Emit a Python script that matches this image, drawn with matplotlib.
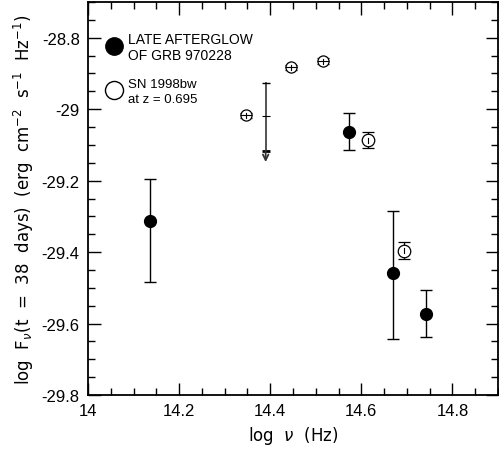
import matplotlib
matplotlib.use("Agg")
import matplotlib.pyplot as plt
from matplotlib.ticker import MultipleLocator

plt.rcParams['font.family'] = ['Liberation Sans', 'DejaVu Sans']
plt.rcParams['mathtext.fontset'] = 'dejavusans'

# Late afterglow of GRB 970228 (filled)
grb_x = [14.137, 14.574, 14.670, 14.741]
grb_y = [-29.314, -29.063, -29.458, -29.572]
grb_err_lo = [0.169, 0.051, 0.186, 0.067]
grb_err_hi = [0.119, 0.051, 0.173, 0.067]

# SN 1998bw at z = 0.695 (open)
sn_x = [14.347, 14.445, 14.516, 14.614, 14.693]
sn_y = [-29.017, -28.883, -28.866, -29.087, -29.396]
sn_err = [0.007, 0.008, 0.008, 0.022, 0.024]
sn_size = [8.0, 8.0, 8.0, 9.0, 9.0]
sn_hline = [True, True, True, False, False]

# Upper limit arrow
ul_x = 14.39
ul_top = -28.926
ul_mid = -29.019
ul_bar = -29.116
ul_tip = -29.148

fig = plt.figure(figsize=(4.99, 4.52), dpi=100)
ax = fig.add_axes([88/499, (452-396)/452, (498-88)/499, (396-3)/452])

ax.errorbar(grb_x, grb_y, yerr=[grb_err_lo, grb_err_hi], fmt='o', color='black',
            ms=8.5, capsize=4.5, elinewidth=1.0, capthick=1.0, zorder=3)

for x, y, e, s, h in zip(sn_x, sn_y, sn_err, sn_size, sn_hline):
    ax.errorbar([x], [y], yerr=[e], fmt='o', mfc='white', mec='black', mew=0.9,
                ecolor='black', ms=s, capsize=s/2, elinewidth=0.9, capthick=0.9, zorder=3)
    if h:
        ax.plot([x], [y], marker='_', color='black', ms=s, mew=0.8, zorder=4)
    ax.plot([x, x], [y - s*0.0008, y + s*0.0008], color='black', lw=0.8, zorder=4)

# upper limit
ax.plot([ul_x, ul_x], [ul_top, ul_bar], color='#444444', lw=1.3, zorder=2)
ax.annotate('', xy=(ul_x, ul_tip), xytext=(ul_x, ul_bar),
            arrowprops=dict(arrowstyle='->', color='#333333', lw=1.3,
                            mutation_scale=10, shrinkA=0, shrinkB=0))
ax.plot([ul_x], [ul_top], marker='_', color='black', ms=6, mew=1.0)
ax.plot([ul_x], [ul_mid], marker='_', color='black', ms=6, mew=0.8)
ax.plot([ul_x], [ul_bar], marker='_', color='black', ms=6, mew=2.0)

# legend-like annotations
ax.plot([14.058], [-28.824], 'o', color='black', ms=12.5, clip_on=False)
ax.plot([14.056], [-28.946], 'o', mfc='white', mec='black', mew=1.0, ms=13, clip_on=False)
ax.text(14.088, -28.826, 'LATE AFTERGLOW\nOF GRB 970228', fontsize=10, va='center', ha='left',
        linespacing=1.15)
ax.text(14.088, -28.95, 'SN 1998bw\nat z = 0.695', fontsize=9.5, va='center', ha='left',
        linespacing=1.3)

ax.set_xlim(14.0, 14.9)
ax.set_ylim(-29.8, -28.7)
ax.xaxis.set_major_locator(MultipleLocator(0.2))
ax.xaxis.set_minor_locator(MultipleLocator(0.05))
ax.yaxis.set_major_locator(MultipleLocator(0.2))
ax.yaxis.set_minor_locator(MultipleLocator(0.05))
ax.set_xticks([14.0, 14.2, 14.4, 14.6, 14.8])
ax.set_xticklabels(['14', '14.2', '14.4', '14.6', '14.8'])
ax.set_yticks([-29.8, -29.6, -29.4, -29.2, -29.0, -28.8])
ax.set_yticklabels(['-29.8', '-29.6', '-29.4', '-29.2', '-29', '-28.8'])
ax.tick_params(which='both', direction='in', top=True, right=True, labelsize=12, width=1.0)
ax.tick_params(which='major', length=9, pad=6)
ax.tick_params(which='minor', length=5)
for sp in ax.spines.values():
    sp.set_linewidth(1.3)

ax.set_xlabel(r'log  $\nu$  (Hz)', fontsize=12, family='DejaVu Sans', labelpad=4)
ax.set_ylabel(r'log  F$_\nu$(t  =  38  days)  (erg  cm$^{-2}$  s$^{-1}$  Hz$^{-1}$)',
              fontsize=12, family='DejaVu Sans', labelpad=4)

fig.savefig('out.png', dpi=100)
